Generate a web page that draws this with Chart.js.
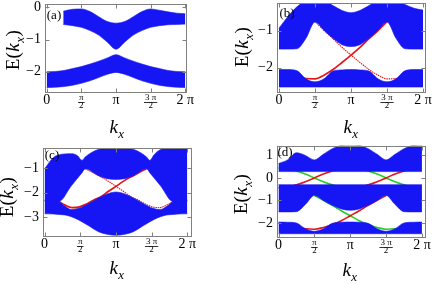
<!DOCTYPE html>
<html><head><meta charset="utf-8">
<script src="https://cdn.jsdelivr.net/npm/chart.js@4.4.1/dist/chart.umd.min.js"></script>
<style>
html,body{margin:0;padding:0;background:#fff;width:436px;height:284px;overflow:hidden}
canvas{position:absolute}
</style></head><body>
<canvas id="pa" width="218" height="142" style="left:0;top:0"></canvas>
<canvas id="pb" width="218" height="142" style="left:218px;top:0"></canvas>
<canvas id="pc" width="218" height="142" style="left:0;top:142px"></canvas>
<canvas id="pd" width="218" height="142" style="left:218px;top:142px"></canvas>
<script>
// ---------- shared axis data ----------
const kGrid = [0, 0.393, 0.785, 1.178, 1.571, 1.963, 2.356, 2.749, 3.142, 3.534, 3.927, 4.320, 4.712, 5.105, 5.498, 5.890, 6.283];
const xTickValues = [0, 1.571, 3.142, 4.712, 6.283];
const xTickLabels = ['0', ['π', '2'], 'π', ['3 π', '2'], '2 π'];

// ---------- panel (a) ----------
const aYTicks = [-2, -1, 0];
const aYLabels = ['−2', '−1', '0'];
const aUpK   = [0.75, 1.178, 1.571, 1.963, 2.356, 2.749, 3.142, 3.534, 3.927, 4.320, 4.712, 5.105, 5.498, 5.890, 6.283];
const aUpTop = [-0.12, -0.06, -0.05, -0.13, -0.29, -0.44, -0.49, -0.44, -0.29, -0.13, -0.05, -0.09, -0.14, -0.18, -0.20];
const aUpBot = [-0.53, -0.57, -0.62, -0.72, -0.86, -1.08, -1.30, -1.08, -0.86, -0.72, -0.62, -0.57, -0.54, -0.53, -0.52];
const aLoTop = [-2.00, -1.99, -1.96, -1.90, -1.84, -1.76, -1.67, -1.57, -1.47, -1.57, -1.67, -1.76, -1.84, -1.90, -1.96, -1.99, -2.00];
const aLoBot = [-2.49, -2.48, -2.46, -2.42, -2.36, -2.28, -2.18, -2.08, -2.02, -2.08, -2.18, -2.28, -2.36, -2.42, -2.46, -2.48, -2.49];

// ---------- panel (b) ----------
const bYTicks = [-2, -1];
const bYLabels = ['−2', '−1'];
const bUpTop = [-0.94, -0.62, -0.36, -0.20, -0.15, -0.20, -0.33, -0.46, -0.52, -0.46, -0.33, -0.20, -0.15, -0.20, -0.30, -0.40, -0.45];
const bUpBot = [-1.50, -1.50, -1.49, -1.21, -0.77, -0.99, -1.21, -1.38, -1.43, -1.38, -1.21, -0.99, -0.77, -1.21, -1.49, -1.50, -1.50];
const bLoTop = [-2.05, -2.05, -2.08, -2.30, -2.38, -2.30, -2.09, -2.06, -2.05, -2.06, -2.09, -2.30, -2.38, -2.30, -2.08, -2.05, -2.05];
const bLoBot = [-2.52, -2.52, -2.52, -2.52, -2.52, -2.52, -2.52, -2.52, -2.52, -2.52, -2.52, -2.52, -2.52, -2.52, -2.52, -2.52, -2.52];
const bRedAK = [1.571, 1.963, 2.356, 2.749, 3.142, 3.534, 3.927, 4.320, 4.712, 5.105, 5.50];
const bRedAE = [-0.76, -1.00, -1.22, -1.45, -1.66, -1.86, -2.05, -2.20, -2.30, -2.29, -2.24];
const bRedBK = [0.78, 1.178, 1.571, 1.963, 2.356, 2.749, 3.142, 3.534, 3.927, 4.320, 4.712];
const bRedBE = [-2.24, -2.29, -2.30, -2.20, -2.05, -1.86, -1.66, -1.45, -1.22, -1.00, -0.76];

// ---------- panel (c) ----------
const cYTicks = [-3, -2, -1];
const cYLabels = ['−3', '−2', '−1'];
const cUpK   = [0, 0.393, 0.62, 1.178, 1.45, 1.65, 1.79, 2.356, 2.749, 3.142, 3.534, 3.927, 4.49, 4.63, 4.83, 5.105, 5.66, 5.890, 6.283];
const cUpTop = [-1.03, -0.57, -0.47, -0.42, -0.50, -0.69, -0.55, -0.25, -0.20, -0.18, -0.20, -0.25, -0.55, -0.69, -0.45, -0.25, -0.15, -0.17, -0.20];
const cUpBot = [-2.33, -2.34, -2.36, -1.72, -1.41, -1.19, -1.03, -1.30, -1.43, -1.46, -1.43, -1.30, -1.03, -1.19, -1.41, -1.72, -2.36, -2.34, -2.33];
const cLoK   = [0, 0.393, 0.62, 0.90, 1.18, 1.50, 1.963, 2.356, 2.749, 3.142, 3.534, 3.927, 4.32, 4.78, 5.10, 5.38, 5.66, 5.890, 6.283];
const cLoTop = [-2.30, -2.31, -2.35, -2.55, -2.68, -2.63, -2.42, -2.22, -2.05, -1.97, -2.05, -2.22, -2.42, -2.63, -2.68, -2.55, -2.35, -2.31, -2.30];
const cLoBot = [-2.85, -2.86, -2.88, -2.90, -2.97, -3.10, -3.35, -3.57, -3.68, -3.72, -3.68, -3.57, -3.35, -3.10, -2.97, -2.90, -2.88, -2.86, -2.85];
const cRedAK = [1.79, 2.08, 2.356, 2.749, 3.142, 3.48, 3.82, 4.13, 4.49, 4.78, 5.08, 5.38, 5.66];
const cRedAE = [-1.03, -1.16, -1.30, -1.50, -1.74, -1.95, -2.17, -2.30, -2.48, -2.58, -2.60, -2.50, -2.35];
const cRedBK = [0.62, 0.90, 1.20, 1.50, 1.79, 2.15, 2.46, 2.80, 3.142, 3.534, 3.927, 4.20, 4.49];
const cRedBE = [-2.35, -2.50, -2.60, -2.58, -2.48, -2.30, -2.17, -1.95, -1.74, -1.50, -1.30, -1.16, -1.03];

// ---------- panel (d) ----------
const dYTicks = [-2, -1, 0, 1];
const dYLabels = ['−2', '−1', '0', '1'];
const d1Top = [0.64, 0.80, 1.12, 1.00, 0.80, 1.05, 1.30, 1.45, 1.50, 1.45, 1.30, 1.05, 0.80, 1.05, 1.30, 1.45, 1.50];
const d1Bot = [0.28, 0.28, 0.28, 0.28, 0.28, 0.28, 0.28, 0.28, 0.28, 0.28, 0.28, 0.28, 0.28, 0.28, 0.28, 0.28, 0.28];
const d2Top = [-0.30, -0.30, -0.30, -0.30, -0.30, -0.30, -0.30, -0.30, -0.30, -0.30, -0.30, -0.30, -0.30, -0.30, -0.30, -0.30, -0.30];
const d2Bot = [-1.51, -1.51, -1.50, -1.18, -0.78, -1.00, -1.22, -1.38, -1.44, -1.38, -1.22, -1.00, -0.78, -1.18, -1.50, -1.51, -1.51];
const d3Top = [-1.96, -1.97, -2.00, -2.26, -2.37, -2.26, -2.02, -1.97, -1.96, -1.97, -2.02, -2.26, -2.37, -2.26, -2.00, -1.97, -1.96];
const d3Bot = [-2.48, -2.48, -2.48, -2.48, -2.48, -2.48, -2.48, -2.48, -2.48, -2.48, -2.48, -2.48, -2.48, -2.48, -2.48, -2.48, -2.48];
const dHalf1K = [0, 0.393, 0.785, 1.178, 1.571, 1.963, 2.356, 2.749, 3.142];
const dHalf2K = [3.142, 3.534, 3.927, 4.320, 4.712, 5.105, 5.498, 5.890, 6.283];
const dGreen1E = [0.44, 0.40, 0.31, 0.17, 0.00, -0.17, -0.31, -0.40, -0.44];
const dGreen2E = [0.44, 0.40, 0.31, 0.17, 0.00, -0.17, -0.31, -0.40, -0.44];
const dRed1E = [-0.44, -0.40, -0.31, -0.17, 0.00, 0.17, 0.31, 0.40, 0.44];
const dRed2E = [-0.44, -0.40, -0.31, -0.17, 0.00, 0.17, 0.31, 0.40, 0.44];
const dGreenLoK = [1.571, 1.963, 2.356, 2.749, 3.142, 3.534, 3.927, 4.320, 4.712, 5.105, 5.61];
const dGreenLoE = [-0.78, -1.00, -1.22, -1.46, -1.68, -1.90, -2.07, -2.20, -2.28, -2.26, -2.18];
const dRedLoK = [0.67, 1.178, 1.571, 1.963, 2.356, 2.749, 3.142, 3.534, 3.927, 4.320, 4.712];
const dRedLoE = [-2.18, -2.26, -2.28, -2.20, -2.07, -1.90, -1.68, -1.46, -1.22, -1.00, -0.78];

// ---------- styling ----------
const BLUE = 'rgb(22,22,244)';
const RED = 'rgb(228,22,22)';
const GREEN = 'rgb(40,205,40)';
const FRAME = '#808080';
const SERIF = '"Liberation Serif", "Times New Roman", serif';

const panels = [
  {id:'pa', yw:45, padRight:31, padTop:3.5, xh:49, xMin:-0.077, xMax:6.36, yMin:-2.66, yMax:0.12,
   yTicks:aYTicks, yLabels:aYLabels,
   bands:[[aUpK, aUpTop, aUpBot], [kGrid, aLoTop, aLoBot]], lines:[],
   label:'(a)', labelPos:[54, 16], yTitle:[13, 50], xTitle:[117, 127]},
  {id:'pb', yw:59, padRight:10, padTop:3, xh:49, xMin:-0.087, xMax:6.414, yMin:-2.68, yMax:-0.26,
   yTicks:bYTicks, yLabels:bYLabels,
   bands:[[kGrid, bUpTop, bUpBot], [kGrid, bLoTop, bLoBot]],
   lines:[{k:bRedAK, e:bRedAE, color:RED, w:1.1, dash:[1.5,0.8]}, {k:bRedBK, e:bRedBE, color:RED, w:1.7}],
   label:'(b)', labelPos:[69, 14], yTitle:[24, 47], xTitle:[133, 127]},
  {id:'pc', yw:43, padRight:26, padTop:6, xh:47, xMin:-0.07, xMax:6.49, yMin:-3.79, yMax:-0.19,
   yTicks:cYTicks, yLabels:cYLabels,
   bands:[[cUpK, cUpTop, cUpBot], [cLoK, cLoTop, cLoBot]],
   lines:[{k:cRedAK, e:cRedAE, color:RED, w:1.1, dash:[1.5,0.8]}, {k:cRedBK, e:cRedBE, color:RED, w:1.7}],
   label:'(c)', labelPos:[52, 14], yTitle:[7, 55], xTitle:[117, 126]},
  {id:'pd', yw:59, padRight:10, padTop:3.5, xh:46, xMin:-0.066, xMax:6.46, yMin:-2.67, yMax:1.44,
   yTicks:dYTicks, yLabels:dYLabels,
   bands:[[kGrid, d1Top, d1Bot], [kGrid, d2Top, d2Bot], [kGrid, d3Top, d3Bot]],
   lines:[{k:dHalf1K, e:dRed1E, color:RED, w:1.6}, {k:dHalf2K, e:dRed2E, color:RED, w:1.6},
          {k:dRedLoK, e:dRedLoE, color:RED, w:1.6},
          {k:dHalf1K, e:dGreen1E, color:GREEN, w:1.6}, {k:dHalf2K, e:dGreen2E, color:GREEN, w:1.6},
          {k:dGreenLoK, e:dGreenLoE, color:GREEN, w:1.6}],
   label:'(d)', labelPos:[67, 11], yTitle:[23, 52], xTitle:[132, 128]}
];
const panelById = {};
panels.forEach(p => panelById[p.id] = p);

const yTitleParts = [{t:'E('}, {t:'k', it:true}, {t:'x', it:true, sub:true}, {t:')'}];
const xTitleParts = [{t:'k', it:true}, {t:'x', it:true, sub:true}];

function drawRich(ctx, parts, size, cx, cy, rot) {
  ctx.save();
  ctx.translate(cx, cy);
  if (rot) ctx.rotate(-Math.PI / 2);
  let w = 0;
  const items = parts.map(p => {
    const sz = p.sub ? size * 0.68 : size;
    const font = (p.it ? 'italic ' : '') + sz + 'px ' + SERIF;
    ctx.font = font;
    const m = ctx.measureText(p.t).width;
    const it = {t:p.t, font, x:w, dy: p.sub ? size * 0.25 : 0};
    w += m + 0.5;
    return it;
  });
  ctx.fillStyle = '#000';
  ctx.textBaseline = 'alphabetic';
  ctx.textAlign = 'left';
  items.forEach(it => { ctx.font = it.font; ctx.fillText(it.t, -w / 2 + it.x, size * 0.33 + it.dy); });
  ctx.restore();
}

const deco = {
  id: 'deco',
  afterDraw(chart) {
    const p = panelById[chart.canvas.id];
    const ctx = chart.ctx, a = chart.chartArea, xs = chart.scales.x, ys = chart.scales.y;
    ctx.save();
    const L = Math.round(a.left) + 0.5, T = Math.round(a.top) + 0.5, R = Math.round(a.right) - 0.5, B = Math.round(a.bottom) - 0.5;
    ctx.strokeStyle = FRAME; ctx.lineWidth = 1;
    ctx.strokeRect(L, T, R - L, B - T);
    ctx.beginPath();
    xTickValues.forEach(v => {
      const px = Math.round(xs.getPixelForValue(v)) + 0.5;
      ctx.moveTo(px, B); ctx.lineTo(px, B - 4);
      ctx.moveTo(px, T); ctx.lineTo(px, T + 4);
    });
    p.yTicks.forEach(v => {
      const py = Math.round(ys.getPixelForValue(v)) + 0.5;
      ctx.moveTo(L, py); ctx.lineTo(L + 4, py);
      ctx.moveTo(R, py); ctx.lineTo(R - 4, py);
    });
    ctx.stroke();
    // fraction bars of the x tick labels
    ctx.strokeStyle = '#000'; ctx.lineWidth = 0.8;
    xTickLabels.forEach((lab, i) => {
      if (!Array.isArray(lab)) return;
      ctx.font = '9px ' + SERIF;
      const w = ctx.measureText(lab[0]).width + 2;
      const px = xs.getPixelForValue(xTickValues[i]);
      const py = Math.round(a.bottom + 8.6) + 0.5;
      ctx.beginPath(); ctx.moveTo(px - w / 2, py); ctx.lineTo(px + w / 2, py); ctx.stroke();
    });
    // panel label
    ctx.fillStyle = '#000'; ctx.font = '13px ' + SERIF;
    ctx.textAlign = 'center'; ctx.textBaseline = 'middle';
    ctx.fillText(p.label, p.labelPos[0], p.labelPos[1]);
    ctx.restore();
    drawRich(ctx, yTitleParts, 19, p.yTitle[0], p.yTitle[1], true);
    drawRich(ctx, xTitleParts, 19, p.xTitle[0], p.xTitle[1], false);
  }
};

function makeChart(p) {
  const datasets = [];
  p.bands.forEach(([k, top, bot]) => {
    datasets.push({data: k.map((x, i) => ({x, y: bot[i]})), borderColor: BLUE, backgroundColor: BLUE,
      borderWidth: 0.6, fill: false, pointRadius: 0, cubicInterpolationMode: 'monotone'});
    datasets.push({data: k.map((x, i) => ({x, y: top[i]})), borderColor: BLUE, backgroundColor: BLUE,
      borderWidth: 0.6, fill: '-1', pointRadius: 0, cubicInterpolationMode: 'monotone'});
  });
  p.lines.forEach(l => datasets.push({data: l.k.map((x, i) => ({x, y: l.e[i]})), borderColor: l.color,
    borderWidth: l.w, borderDash: l.dash || [], fill: false, pointRadius: 0, cubicInterpolationMode: 'monotone'}));
  const zeroPad = s => { s.paddingLeft = 0; s.paddingRight = 0; s.paddingTop = 0; s.paddingBottom = 0; };
  new Chart(document.getElementById(p.id), {
    type: 'line',
    data: {datasets},
    options: {
      responsive: false, animation: false, events: [],
      layout: {padding: {left: 0, right: p.padRight, top: p.padTop, bottom: 0}},
      plugins: {legend: {display: false}, tooltip: {enabled: false}},
      scales: {
        x: {type: 'linear', min: p.xMin, max: p.xMax,
          grid: {display: false, drawTicks: false}, border: {display: false},
          afterBuildTicks: s => { s.ticks = xTickValues.map(v => ({value: v})); },
          afterFit: s => { s.height = p.xh; zeroPad(s); },
          ticks: {autoSkip: false, maxRotation: 0, minRotation: 0, padding: 0, color: '#000',
            callback: (v, i) => xTickLabels[i],
            font: c => Array.isArray(xTickLabels[c.index])
              ? {family: SERIF, size: 9, lineHeight: 0.95}
              : {family: SERIF, size: 14, lineHeight: 1.1}}},
        y: {type: 'linear', min: p.yMin, max: p.yMax,
          grid: {display: false, drawTicks: false}, border: {display: false},
          afterBuildTicks: s => { s.ticks = p.yTicks.map(v => ({value: v})); },
          afterFit: s => { s.width = p.yw; zeroPad(s); },
          ticks: {autoSkip: false, padding: 4, color: '#000',
            callback: (v, i) => p.yLabels[i],
            font: {family: SERIF, size: 14}}}
      }
    },
    plugins: [deco]
  });
}
panels.forEach(makeChart);
</script>
</body></html>
